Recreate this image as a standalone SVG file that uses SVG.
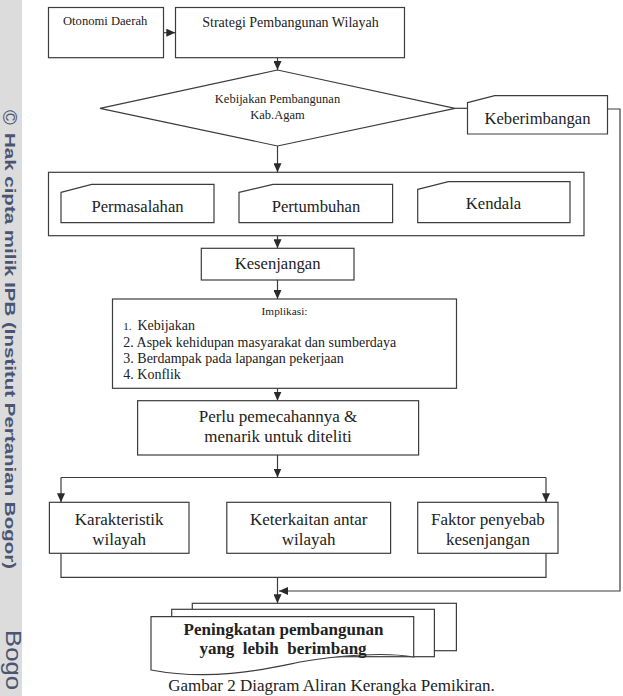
<svg xmlns="http://www.w3.org/2000/svg" width="623" height="696" viewBox="0 0 623 696">
<style>
.box{fill:#fff;stroke:#3c3c3c;stroke-width:1.2}
.ln{fill:none;stroke:#3c3c3c;stroke-width:1.2}
.t{font-family:"Liberation Serif","Times New Roman",serif;fill:#222;text-anchor:middle}
.tl{font-family:"Liberation Serif","Times New Roman",serif;fill:#222}
.wm{font-family:"Liberation Sans",Arial,sans-serif;fill:#4a5573}
</style>
<defs>
<marker id="ah" markerUnits="userSpaceOnUse" markerWidth="9" markerHeight="8" refX="9" refY="4" orient="auto">
<path d="M0,0 L9,4 L0,8 Z" fill="#2a2a2a"/>
</marker>
</defs>
<rect x="0" y="0" width="623" height="696" fill="#fff"/>
<g id="watermark">
<rect x="0" y="0" width="22" height="696" fill="#dcdcdc"/>
<text class="wm" transform="translate(3,110) rotate(90)" font-size="20">©</text>
<text class="wm" transform="translate(5,133) rotate(90)" font-size="15" font-weight="bold" textLength="436" lengthAdjust="spacingAndGlyphs">Hak cipta milik IPB (Institut Pertanian Bogor)</text>
<text class="wm" transform="translate(6,630) rotate(90)" font-size="22" fill="#5f6b8a" textLength="60" lengthAdjust="spacingAndGlyphs">Bogo</text>
</g>
<g id="connectors">
<path class="ln" d="M163.5,32.7 H175.3" marker-end="url(#ah)"/>
<path class="ln" d="M277.5,57.7 V70" marker-end="url(#ah)"/>
<path class="ln" d="M277.5,146 V172.3" marker-end="url(#ah)"/>
<path class="ln" d="M455,108.3 H467.5"/>
<path class="ln" d="M607.5,109 H620 V591 H279" marker-end="url(#ah)"/>
<path class="ln" d="M214,197.5 H239" marker-end="url(#ah)"/>
<path class="ln" d="M417.7,197.5 H392.6" marker-end="url(#ah)"/>
<path class="ln" d="M277.5,235.7 V248.3" marker-end="url(#ah)"/>
<path class="ln" d="M277.5,280 V299" marker-end="url(#ah)"/>
<path class="ln" d="M277.5,388.3 V400.7" marker-end="url(#ah)"/>
<path class="ln" d="M277.5,455 V477.5" marker-end="url(#ah)"/>
<path class="ln" d="M61,477.5 H546"/>
<path class="ln" d="M61,477.5 V502.3" marker-end="url(#ah)"/>
<path class="ln" d="M546,477.5 V502.3" marker-end="url(#ah)"/>
<path class="ln" d="M61,553.3 V577.3 H546 V553.3"/>
<path class="ln" d="M277.5,577.3 V603.3" marker-end="url(#ah)"/>
</g>
<g id="otonomi">
<rect class="box" x="48.5" y="7.5" width="115" height="50.2"/>
<text class="tl" x="63" y="25" font-size="12.6">Otonomi Daerah</text>
</g>
<g id="strategi">
<rect class="box" x="175.5" y="7.5" width="229" height="50.2"/>
<text class="t" x="290.5" y="27" font-size="14">Strategi Pembangunan Wilayah</text>
</g>
<g id="kebijakan">
<path class="box" d="M100,108.3 L277.5,70 L455,108.3 L277.5,146 Z"/>
<text class="t" x="277.5" y="103" font-size="12.5">Kebijakan Pembangunan</text>
<text class="t" x="277.5" y="119" font-size="12.5">Kab.Agam</text>
</g>
<g id="keberimbangan">
<path class="box" d="M467.5,102.7 L494.7,95.7 H607.5 V134 H467.5 Z"/>
<text class="t" x="537.5" y="123.5" font-size="16.6">Keberimbangan</text>
</g>
<g id="kelompok">
<rect class="box" x="48.5" y="172.3" width="535.5" height="63.4"/>
</g>
<g id="permasalahan">
<path class="box" d="M61,192.3 L91.7,184.3 H214 V222.7 H61 Z"/>
<text class="t" x="137.5" y="211.5" font-size="16.6">Permasalahan</text>
</g>
<g id="pertumbuhan">
<path class="box" d="M239,192.3 L273,184.3 H392.6 V222.7 H239 Z"/>
<text class="t" x="316" y="211.5" font-size="16.6">Pertumbuhan</text>
</g>
<g id="kendala">
<path class="box" d="M417.7,189.3 L448.4,181.7 H570 V222.7 H417.7 Z"/>
<text class="t" x="493.5" y="208.5" font-size="16.6">Kendala</text>
</g>
<g id="kesenjangan">
<rect class="box" x="201.3" y="248.3" width="152.7" height="31.7"/>
<text class="t" x="277.6" y="269" font-size="16.6">Kesenjangan</text>
</g>
<g id="implikasi">
<rect class="box" x="112.5" y="299" width="344" height="89.3"/>
<text class="t" x="284.5" y="315" font-size="11.3">Implikasi:</text>
<text class="tl" x="123.3" y="330" font-size="11">1.</text>
<text class="tl" x="137.5" y="330" font-size="14">Kebijakan</text>
<text class="tl" x="123.3" y="346.5" font-size="14">2. Aspek kehidupan masyarakat dan sumberdaya</text>
<text class="tl" x="123.3" y="363" font-size="14">3. Berdampak pada lapangan pekerjaan</text>
<text class="tl" x="123.3" y="379" font-size="14">4. Konflik</text>
</g>
<g id="perlu">
<rect class="box" x="137.6" y="400.7" width="281" height="54.3"/>
<text class="t" x="278" y="422" font-size="17">Perlu pemecahannya &amp;</text>
<text class="t" x="278" y="441.5" font-size="17">menarik untuk diteliti</text>
</g>
<g id="karakteristik">
<rect class="box" x="49.4" y="502.3" width="139.6" height="51"/>
<text class="t" x="119.2" y="525" font-size="17">Karakteristik</text>
<text class="t" x="119.2" y="545" font-size="17">wilayah</text>
</g>
<g id="keterkaitan">
<rect class="box" x="226.8" y="502.3" width="163.8" height="51"/>
<text class="t" x="308.7" y="525" font-size="17">Keterkaitan antar</text>
<text class="t" x="308.7" y="545" font-size="17">wilayah</text>
</g>
<g id="faktor">
<rect class="box" x="417.7" y="502.3" width="140.3" height="51"/>
<text class="t" x="487.9" y="525" font-size="17">Faktor penyebab</text>
<text class="t" x="487.9" y="545" font-size="17">kesenjangan</text>
</g>
<g id="peningkatan">
<rect class="box" x="192.3" y="603.3" width="264.1" height="47.4"/>
<rect class="box" x="171.7" y="609.3" width="262.7" height="47.4"/>
<path class="box" d="M151,616.7 H413.7 V657 C385,652 340,655 300,662 C270,668 215,682 151,670 Z"/>
<text class="t" x="283.5" y="635" font-size="17" font-weight="bold">Peningkatan pembangunan</text>
<text class="t" x="283" y="654" font-size="17" font-weight="bold" style="white-space:pre">yang  lebih  berimbang</text>
</g>
<text class="t" x="331.5" y="691" font-size="17">Gambar 2 Diagram Aliran Kerangka Pemikiran.</text>
</svg>
